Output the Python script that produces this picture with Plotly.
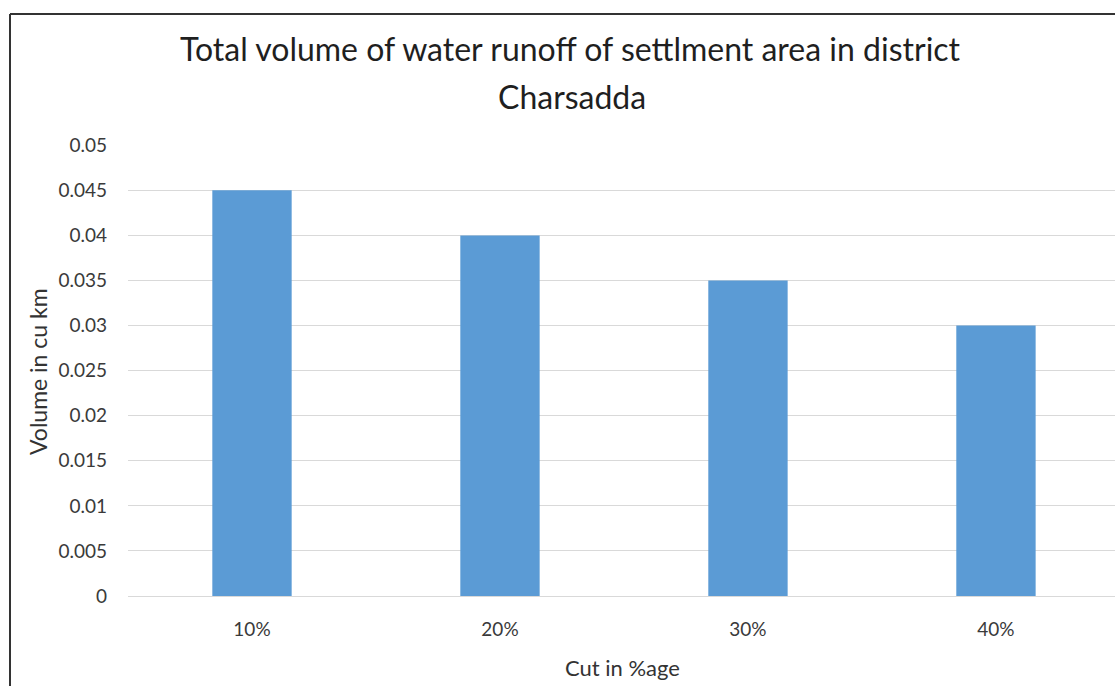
import plotly.graph_objects as go

# Runoff volume for each cut percentage
categories = ["10%", "20%", "30%", "40%"]
volumes = [0.045, 0.04, 0.035, 0.03]
y_ticks = [0, 0.005, 0.01, 0.015, 0.02, 0.025, 0.03, 0.035, 0.04, 0.045, 0.05]
y_tick_text = ["0", "0.005", "0.01", "0.015", "0.02", "0.025", "0.03", "0.035", "0.04", "0.045", "0.05"]

W, H = 1115, 686
L, R, T, B = 128, 0, 145, 90
pw, ph = W - L - R, H - T - B

def px(x):
    return (x - L) / pw

def py(y):
    return (H - B - y) / ph

FONT = "Lato"
TICK_COLOR = "#3a3a3a"
TITLE_COLOR = "#333333"

fig = go.Figure(
    go.Bar(
        x=categories,
        y=volumes,
        marker=dict(color="#5b9bd5", line=dict(width=0)),
        width=0.32,
    )
)

fig.update_layout(
    width=W,
    height=H,
    margin=dict(l=L, r=R, t=T, b=B, autoexpand=False),
    paper_bgcolor="white",
    plot_bgcolor="white",
    showlegend=False,
    font=dict(family=FONT, color=TICK_COLOR, size=19),
)

fig.update_xaxes(
    type="category",
    range=[-0.5, 3.48],
    showgrid=False,
    showline=False,
    ticks="",
    ticklabelstandoff=20,
    tickfont=dict(family=FONT, size=19, color=TICK_COLOR),
)

fig.update_yaxes(
    range=[0, 0.05003],
    tickvals=y_ticks,
    ticktext=y_tick_text,
    showgrid=True,
    gridcolor="#d9d9d9",
    gridwidth=1.3,
    zeroline=True,
    zerolinecolor="#d9d9d9",
    zerolinewidth=1.3,
    showline=False,
    ticks="",
    ticklabelstandoff=20,
    tickfont=dict(family=FONT, size=19, color=TICK_COLOR),
)

# Axis titles
fig.add_annotation(
    x=px(38), y=py(372), xref="paper", yref="paper",
    text="Volume in cu km", textangle=-90,
    showarrow=False, xanchor="center", yanchor="middle",
    font=dict(family=FONT, size=23, color=TITLE_COLOR),
)
fig.add_annotation(
    x=px(622), y=py(667), xref="paper", yref="paper",
    text="Cut in %age",
    showarrow=False, xanchor="center", yanchor="middle",
    font=dict(family=FONT, size=22, color=TITLE_COLOR),
)

# Two-line chart title
fig.add_annotation(
    x=px(570), y=py(48), xref="paper", yref="paper",
    text="Total volume of water runoff of settlment area in district",
    showarrow=False, xanchor="center", yanchor="middle",
    font=dict(family=FONT, size=32, color="#1f1f1f"),
)
fig.add_annotation(
    x=px(572), y=py(96), xref="paper", yref="paper",
    text="Charsadda",
    showarrow=False, xanchor="center", yanchor="middle",
    font=dict(family=FONT, size=32, color="#1f1f1f"),
)

# Chart frame (left and top edges)
fig.add_shape(type="line", xref="paper", yref="paper",
              x0=px(10), x1=px(10), y0=py(14), y1=py(H + 5),
              line=dict(color="#333333", width=2))
fig.add_shape(type="line", xref="paper", yref="paper",
              x0=px(10), x1=px(W + 5), y0=py(14), y1=py(14),
              line=dict(color="#333333", width=2))

fig.write_html("out.html")
